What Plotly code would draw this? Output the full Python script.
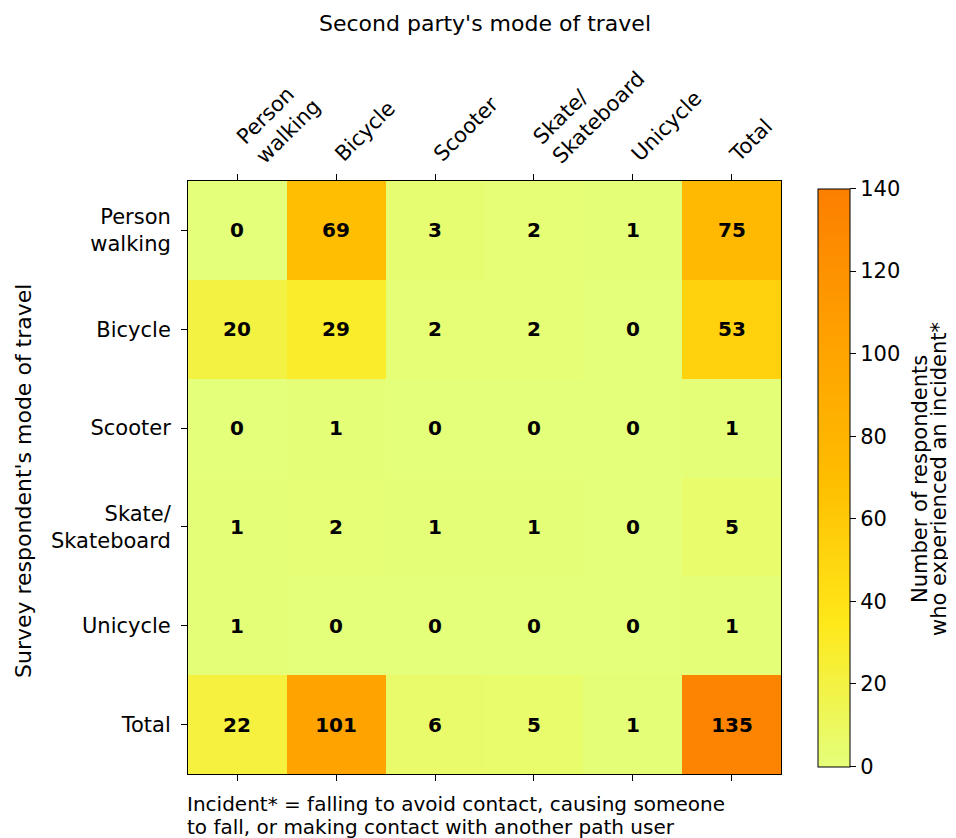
import plotly.graph_objects as go

cols = ["Person<br>walking", "Bicycle", "Scooter", "Skate/<br>Skateboard", "Unicycle", "Total"]
rows = ["Person<br>walking", "Bicycle", "Scooter", "Skate/<br>Skateboard", "Unicycle", "Total"]
row_person_walking = [0, 69, 3, 2, 1, 75]
row_bicycle = [20, 29, 2, 2, 0, 53]
row_scooter = [0, 1, 0, 0, 0, 1]
row_skate = [1, 2, 1, 1, 0, 5]
row_unicycle = [1, 0, 0, 0, 0, 1]
row_total = [22, 101, 6, 5, 1, 135]
z = [row_person_walking, row_bicycle, row_scooter, row_skate, row_unicycle, row_total]
cbar_ticks = [0, 20, 40, 60, 80, 100, 120, 140]

xi = list(range(len(cols)))
yi = list(range(len(rows)))
single = [c if "<br>" not in c else "" for c in cols]
multi_idx = [i for i, c in enumerate(cols) if "<br>" in c]
multi_txt = [cols[i] for i in multi_idx]

wistia = [[0.0, "#e4ff7a"], [0.25, "#ffe81a"], [0.5, "#ffbd00"], [0.75, "#ffa000"], [1.0, "#fc7f00"]]
FONT = "DejaVu Sans"
FS = 21

# page body has a small margin: figure is sized so that it fills the window
OFF = 7
W, H = 956 - OFF, 838 - OFF
L, T, P = 187 - OFF, 180 - OFF, 593


def px_x(sx):
    return (sx - 187) / P


def px_y(sy):
    return (773 - sy) / P


fig = go.Figure()
fig.add_trace(go.Heatmap(
    z=z, x=xi, y=yi, colorscale=wistia, zmin=0, zmax=140,
    texttemplate="<b>%{z}</b>", textfont=dict(family=FONT, size=20, color="black"),
    colorbar=dict(
        thickness=32, thicknessmode="pixels", len=578 / P, lenmode="fraction",
        x=px_x(817), xanchor="left", y=0.5, yanchor="middle", xpad=0, ypad=0,
        outlinecolor="black", outlinewidth=1,
        ticks="outside", ticklen=6, tickcolor="black",
        tickvals=cbar_ticks,
        tickfont=dict(family=FONT, size=FS, color="black"),
    ),
    xaxis="x", yaxis="y", hoverinfo="skip",
))
fig.add_trace(go.Scatter(x=[xi[0]], y=[yi[0]], xaxis="x2", yaxis="y", mode="markers",
                         marker=dict(opacity=0), showlegend=False, hoverinfo="skip"))
fig.add_trace(go.Scatter(x=[xi[0]], y=[yi[0]], xaxis="x3", yaxis="y", mode="markers",
                         marker=dict(opacity=0), showlegend=False, hoverinfo="skip"))

fig.update_layout(
    width=W, height=H,
    margin=dict(l=L, r=W - L - P, t=T, b=H - T - P, autoexpand=False),
    paper_bgcolor="white", plot_bgcolor="white",
    font=dict(family=FONT, size=FS, color="black"),
    xaxis=dict(
        side="top", range=[-0.5, 5.5], tickvals=xi, ticktext=single, tickangle=-45,
        ticks="outside", ticklen=6, tickcolor="black", showgrid=False, zeroline=False,
        showline=True, linecolor="black", linewidth=1, mirror=True,
        tickfont=dict(family=FONT, size=FS, color="black"),
    ),
    xaxis3=dict(
        overlaying="x", side="top", range=[-0.5, 5.5], tickvals=multi_idx, ticktext=multi_txt,
        tickangle=-45, ticks="", showgrid=False, zeroline=False, showline=False, anchor="y",
        ticklabelshift=20, ticklabelstandoff=8,
        tickfont=dict(family=FONT, size=FS, color="black"),
    ),
    xaxis2=dict(
        overlaying="x", side="bottom", range=[-0.5, 5.5], tickvals=xi, showticklabels=False,
        ticks="outside", ticklen=6, tickcolor="black", showgrid=False, zeroline=False,
        showline=False, anchor="y",
    ),
    yaxis=dict(
        range=[5.5, -0.5], tickvals=yi, ticktext=rows,
        ticks="outside", ticklen=6, tickcolor="black", showgrid=False, zeroline=False,
        showline=True, linecolor="black", linewidth=1, mirror=True, ticklabelstandoff=6,
        tickfont=dict(family=FONT, size=FS, color="black"),
    ),
    annotations=[
        dict(text="Second party's mode of travel", x=px_x(484), y=px_y(22),
             xref="paper", yref="paper", showarrow=False, font=dict(size=22),
             xanchor="center", yanchor="middle"),
        dict(text="Survey respondent's mode of travel", textangle=-90, xref="paper", yref="paper",
             x=px_x(22), y=px_y(480), showarrow=False, font=dict(size=22),
             xanchor="center", yanchor="middle"),
        dict(text="Number of respondents", textangle=-90,
             xref="paper", yref="paper", x=px_x(919), y=px_y(478), showarrow=False,
             font=dict(size=FS), xanchor="center", yanchor="middle"),
        dict(text="who experienced an incident*", textangle=-90,
             xref="paper", yref="paper", x=px_x(938), y=px_y(478), showarrow=False,
             font=dict(size=FS), xanchor="center", yanchor="middle"),
        dict(text="Incident* = falling to avoid contact, causing someone",
             xref="paper", yref="paper", x=0, y=px_y(803), xanchor="left", yanchor="middle",
             showarrow=False, font=dict(size=20), xshift=-3),
        dict(text="to fall, or making contact with another path user",
             xref="paper", yref="paper", x=0, y=px_y(826), xanchor="left", yanchor="middle",
             showarrow=False, font=dict(size=20), xshift=-3),
    ],
)

fig.write_html("out.html")
